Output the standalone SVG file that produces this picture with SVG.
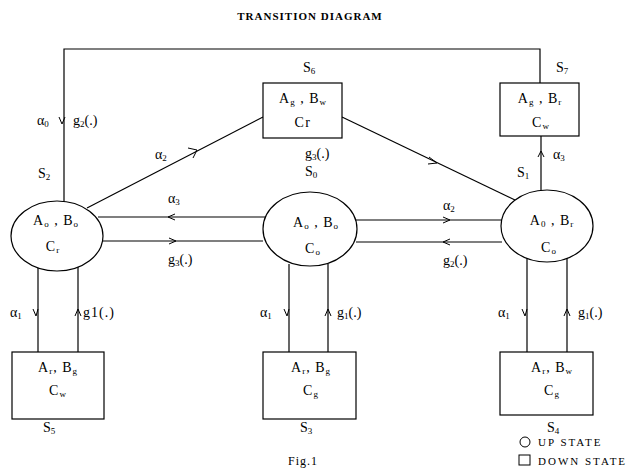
<svg xmlns="http://www.w3.org/2000/svg" width="632" height="469" viewBox="0 0 632 469">
<style>
text{font-family:"Liberation Serif","Times New Roman",serif;font-size:14px;fill:#000}
.t{font-weight:bold;font-size:11px;letter-spacing:1px}
.s{font-size:9px}
.lb{letter-spacing:1px}
.lg{font-size:11px;letter-spacing:2px}
.n{fill:#fff;stroke:#000;stroke-width:1.2}
.c{fill:none;stroke:#000;stroke-width:1.2}
.a{fill:none;stroke:#000;stroke-width:1}
</style>
<rect width="632" height="469" fill="#fff"/>
<text class="t" x="310" y="20" text-anchor="middle">TRANSITION DIAGRAM</text>

<g id="connectors">
<polyline class="c" points="64,204 64,49 540,49 540,83"/>
<path class="a" d="M59,117 L62,124 L65,117"/>
<line class="c" x1="87" y1="208" x2="263" y2="117"/>
<path class="a" d="M188,148 L197,150 L193,158"/>
<line class="c" x1="342" y1="117" x2="515" y2="200"/>
<path class="a" d="M429,157 L437,163 L428,164"/>
<line class="c" x1="98" y1="217" x2="265" y2="217"/>
<path class="a" d="M175,214 L168,217 L175,220"/>
<line class="c" x1="103" y1="241" x2="263" y2="241"/>
<path class="a" d="M169,238 L176,241 L169,244"/>
<line class="c" x1="356" y1="220" x2="501" y2="220"/>
<path class="a" d="M443,217 L450,220 L443,223"/>
<line class="c" x1="356" y1="242" x2="502" y2="242"/>
<path class="a" d="M450,239 L443,242 L450,245"/>
<line class="c" x1="541" y1="190" x2="541" y2="136"/>
<path class="a" d="M538,157 L541,151 L544,157"/>
<line class="c" x1="38" y1="268" x2="38" y2="352"/>
<path class="a" d="M33,309 L36,316 L38,309"/>
<line class="c" x1="78" y1="267" x2="78" y2="352"/>
<path class="a" d="M75,316 L78,309 L81,316"/>
<line class="c" x1="289" y1="264" x2="289" y2="352"/>
<path class="a" d="M284,309 L287,316 L289,309"/>
<line class="c" x1="328" y1="264" x2="328" y2="352"/>
<path class="a" d="M325,316 L328,309 L331,316"/>
<line class="c" x1="527" y1="258" x2="527" y2="352"/>
<path class="a" d="M522,309 L525,316 L527,309"/>
<line class="c" x1="567" y1="257" x2="567" y2="352"/>
<path class="a" d="M564,316 L567,309 L570,316"/>
</g>

<g id="edge-labels">
<text x="37" y="125">α<tspan class="s" dy="2">0</tspan></text>
<text x="73" y="125">g<tspan class="s" dy="2">2</tspan><tspan dy="-2">(.)</tspan></text>
<text x="155" y="159">α<tspan class="s" dy="2">2</tspan></text>
<text x="305" y="158">g<tspan class="s" dy="2">3</tspan><tspan dy="-2">(.)</tspan></text>
<text x="168" y="203">α<tspan class="s" dy="2">3</tspan></text>
<text x="168" y="264">g<tspan class="s" dy="2">3</tspan><tspan dy="-2">(.)</tspan></text>
<text x="443" y="210">α<tspan class="s" dy="2">2</tspan></text>
<text x="443" y="265">g<tspan class="s" dy="2">2</tspan><tspan dy="-2">(.)</tspan></text>
<text x="553" y="159">α<tspan class="s" dy="2">3</tspan></text>
<text x="10" y="317">α<tspan class="s" dy="2">1</tspan></text>
<text x="83" y="317" class="lb">g1(.)</text>
<text x="260" y="317">α<tspan class="s" dy="2">1</tspan></text>
<text x="337" y="317">g<tspan class="s" dy="2">1</tspan><tspan dy="-2">(.)</tspan></text>
<text x="498" y="317">α<tspan class="s" dy="2">1</tspan></text>
<text x="578" y="317">g<tspan class="s" dy="2">1</tspan><tspan dy="-2">(.)</tspan></text>
</g>

<g id="S2">
<ellipse class="n" cx="57" cy="236" rx="46" ry="35"/>
<text class="lb" x="56" y="225" text-anchor="middle">A<tspan class="s" dy="2">o</tspan><tspan dy="-2"> , B</tspan><tspan class="s" dy="2">o</tspan></text>
<text class="lb" x="53" y="251" text-anchor="middle">C<tspan class="s" dy="2">r</tspan></text>
<text x="38" y="178">S<tspan class="s" dy="2">2</tspan></text>
</g>

<g id="S0">
<ellipse class="n" cx="310" cy="229" rx="47" ry="37"/>
<text class="lb" x="316" y="227" text-anchor="middle">A<tspan class="s" dy="2">o</tspan><tspan dy="-2"> , B</tspan><tspan class="s" dy="2">o</tspan></text>
<text class="lb" x="313" y="253" text-anchor="middle">C<tspan class="s" dy="2">o</tspan></text>
<text x="305" y="176">S<tspan class="s" dy="2">0</tspan></text>
</g>

<g id="S1">
<ellipse class="n" cx="547" cy="226" rx="46" ry="36"/>
<text class="lb" x="552" y="225" text-anchor="middle">A<tspan class="s" dy="2">0</tspan><tspan dy="-2"> , B</tspan><tspan class="s" dy="2">r</tspan></text>
<text class="lb" x="549" y="252" text-anchor="middle">C<tspan class="s" dy="2">o</tspan></text>
<text x="517" y="177">S<tspan class="s" dy="2">1</tspan></text>
</g>

<g id="S6">
<rect class="n" x="263" y="83" width="79" height="55"/>
<text class="lb" x="303" y="103" text-anchor="middle">A<tspan class="s" dy="2">g</tspan><tspan dy="-2"> , B</tspan><tspan class="s" dy="2">w</tspan></text>
<text x="303" y="127" text-anchor="middle" style="letter-spacing:1.5px">Cr</text>
<text x="303" y="72">S<tspan class="s" dy="2">6</tspan></text>
</g>

<g id="S7">
<rect class="n" x="500" y="83" width="79" height="53"/>
<text class="lb" x="540" y="103" text-anchor="middle">A<tspan class="s" dy="2">g</tspan><tspan dy="-2"> , B</tspan><tspan class="s" dy="2">r</tspan></text>
<text class="lb" x="541" y="127" text-anchor="middle">C<tspan class="s" dy="2">w</tspan></text>
<text x="556" y="72">S<tspan class="s" dy="2">7</tspan></text>
</g>

<g id="S5">
<rect class="n" x="12" y="352" width="92" height="67"/>
<text class="lb" x="58" y="372" text-anchor="middle">A<tspan class="s" dy="2">r</tspan><tspan dy="-2">, B</tspan><tspan class="s" dy="2">g</tspan></text>
<text class="lb" x="58" y="395" text-anchor="middle">C<tspan class="s" dy="2">w</tspan></text>
<text x="43" y="432">S<tspan class="s" dy="2">5</tspan></text>
</g>

<g id="S3">
<rect class="n" x="263" y="352" width="93" height="67"/>
<text class="lb" x="311" y="372" text-anchor="middle">A<tspan class="s" dy="2">r</tspan><tspan dy="-2">, B</tspan><tspan class="s" dy="2">g</tspan></text>
<text class="lb" x="311" y="395" text-anchor="middle">C<tspan class="s" dy="2">g</tspan></text>
<text x="300" y="432">S<tspan class="s" dy="2">3</tspan></text>
</g>

<g id="S4">
<rect class="n" x="500" y="352" width="93" height="63"/>
<text class="lb" x="552" y="372" text-anchor="middle">A<tspan class="s" dy="2">r</tspan><tspan dy="-2">, B</tspan><tspan class="s" dy="2">w</tspan></text>
<text class="lb" x="552" y="395" text-anchor="middle">C<tspan class="s" dy="2">g</tspan></text>
<text x="547" y="432">S<tspan class="s" dy="2">4</tspan></text>
</g>

<g id="legend">
<circle class="a" cx="525" cy="442" r="5"/>
<text class="lg" x="538" y="446">UP STATE</text>
<rect class="a" x="519" y="455" width="11" height="10"/>
<text class="lg" x="538" y="465">DOWN STATE</text>
</g>
<text x="288" y="465" style="font-size:12px;letter-spacing:1px">Fig.1</text>
</svg>
